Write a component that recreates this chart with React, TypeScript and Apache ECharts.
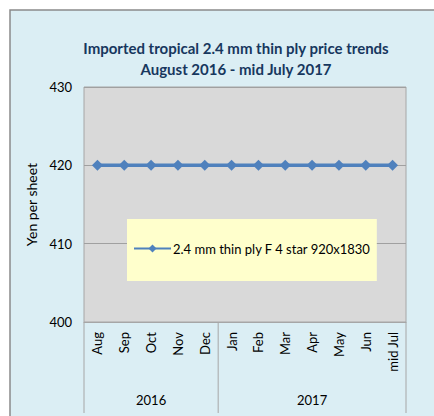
import React, { useEffect, useRef } from "react";
import * as echarts from "echarts";

const categories = ["Aug", "Sep", "Oct", "Nov", "Dec", "Jan", "Feb", "Mar", "Apr", "May", "Jun", "mid Jul"];
const prices = [420, 420, 420, 420, 420, 420, 420, 420, 420, 420, 420, 420];
const years = ["2016", "2017"];
const yearSpans = [5, 7];
const seriesName = "2.4 mm thin ply F 4 star 920x1830";
const titleLines = ["Imported tropical 2.4 mm thin ply price trends", "August 2016 - mid July 2017"];

const FONT = "Lato";

export default function App() {
  const ref = useRef<HTMLDivElement>(null);
  useEffect(() => {
    if (!ref.current) return;
    const chart = echarts.init(ref.current, null, { renderer: "svg" });
    const bg = {
      type: "rect",
      id: "bg",
      z: -10,
      shape: { x: 10, y: 10, width: 440, height: 420 },
      style: { fill: "#dbeef4", stroke: "#8a8a8a", lineWidth: 1.5 },
    };
    chart.setOption({
      animation: false,
      backgroundColor: "#ffffff",
      title: {
        text: titleLines.join("\n"),
        left: 231,
        textAlign: "center",
        top: 32,
        textStyle: { fontFamily: FONT, fontSize: 15, fontWeight: "bold", color: "#17375e", lineHeight: 21 },
      },
      grid: {
        left: 84,
        right: 28,
        top: 87,
        bottom: 94,
        show: true,
        backgroundColor: "#d9d9d9",
        borderColor: "#a6a6a6",
        borderWidth: 1,
      },
      legend: {
        left: 127,
        top: 219,
        backgroundColor: "#ffffcc",
        padding: [23, 6, 26, 6],
        itemWidth: 37,
        itemHeight: 10,
        itemGap: 0,
        textStyle: { fontFamily: FONT, fontSize: 13, color: "#000000", padding: [0, 0, 0, -3] },
        data: [seriesName],
      },
      xAxis: {
        type: "category",
        data: categories,
        boundaryGap: true,
        axisLine: { lineStyle: { color: "#a6a6a6" } },
        axisTick: { show: false },
        axisLabel: { rotate: 90, margin: 10, fontFamily: FONT, fontSize: 13, color: "#000000" },
      },
      yAxis: {
        type: "value",
        min: 400,
        max: 430,
        interval: 10,
        name: "Yen per sheet",
        nameLocation: "middle",
        nameGap: 33,
        nameTextStyle: { fontFamily: FONT, fontSize: 14, color: "#000000" },
        axisLine: { show: false },
        axisTick: { show: false },
        axisLabel: { margin: 12, fontFamily: FONT, fontSize: 13, color: "#000000" },
        splitLine: { lineStyle: { color: "#a0a0a0", width: 1 } },
      },
      series: [
        {
          name: seriesName,
          type: "line",
          data: prices,
          symbol: "diamond",
          symbolSize: 11,
          lineStyle: { color: "#4f81bd", width: 3.5 },
          itemStyle: { color: "#4f81bd" },
        },
      ],
      graphic: [bg],
    });

    const c0 = chart.convertToPixel({ xAxisIndex: 0 }, categories[0]) as number;
    const c1 = chart.convertToPixel({ xAxisIndex: 0 }, categories[1]) as number;
    const band = c1 - c0;
    const axisY = chart.convertToPixel({ yAxisIndex: 0 }, 400) as number;
    const elems: any[] = [bg];
    let idx = 0;
    const boundaries: number[] = [c0 - band / 2];
    years.forEach((y, i) => {
      const start = c0 - band / 2 + idx * band;
      idx += yearSpans[i];
      const end = c0 - band / 2 + idx * band;
      boundaries.push(end);
      elems.push({
        type: "text",
        id: "yr" + i,
        x: (start + end) / 2,
        y: axisY + 78,
        style: { text: y, fontFamily: FONT, fontSize: 13, fill: "#000000", align: "center", verticalAlign: "middle" },
      });
    });
    boundaries.forEach((b, i) => {
      elems.push({
        type: "line",
        id: "sep" + i,
        shape: { x1: b, y1: axisY, x2: b, y2: axisY + 91 },
        style: { stroke: "#a6a6a6", lineWidth: 1 },
      });
    });
    chart.setOption({ graphic: elems });
    return () => chart.dispose();
  }, []);
  return <div ref={ref} style={{ position: "fixed", left: 0, top: 0, width: 434, height: 416 }} />;
}
